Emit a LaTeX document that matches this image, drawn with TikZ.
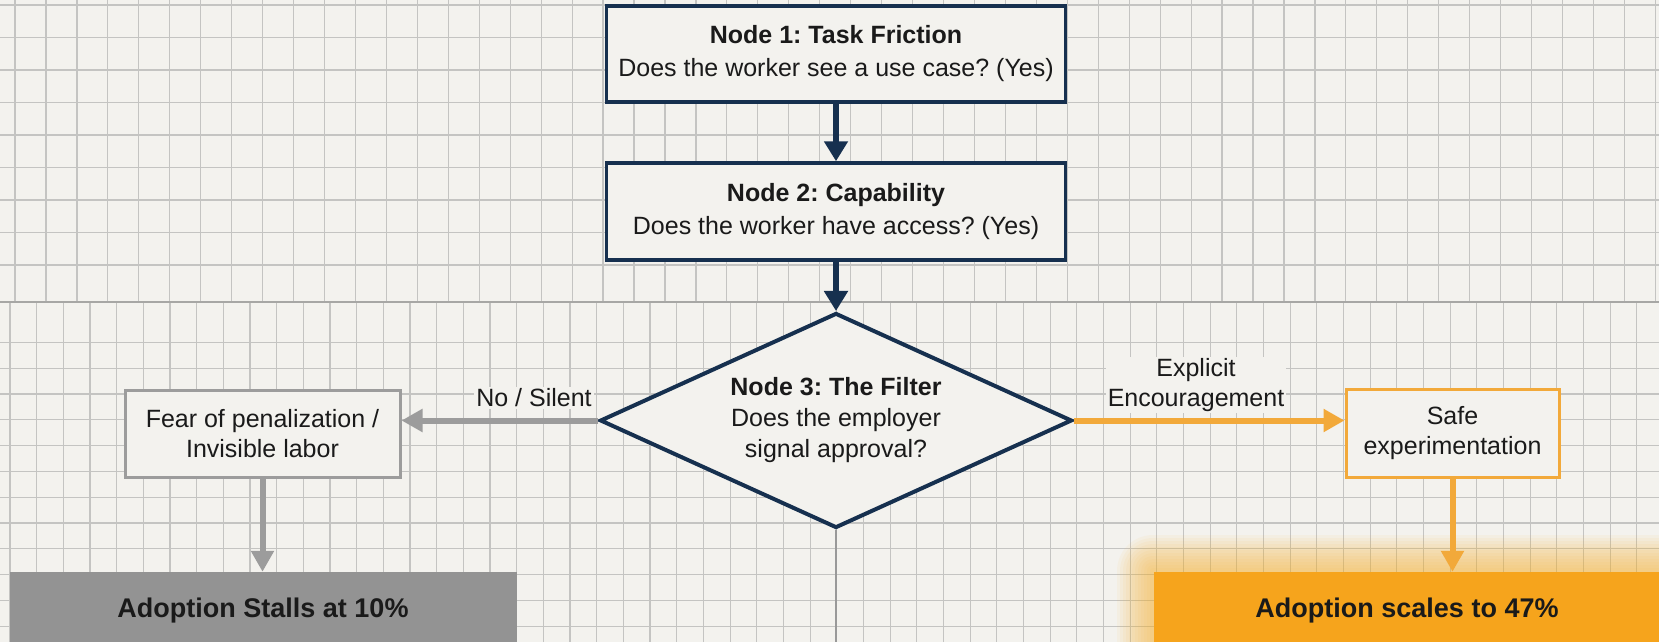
\documentclass[tikz,border=0pt]{standalone}
\usepackage{fontspec}
\setmainfont{Liberation Sans}
\frenchspacing
\usetikzlibrary{arrows.meta,shapes.geometric}
\definecolor{paper}{HTML}{F3F2EE}
\definecolor{gridc}{HTML}{C4C4C2}
\definecolor{navy}{HTML}{16304F}
\definecolor{greyline}{HTML}{9C9C9C}
\definecolor{greybox}{HTML}{939393}
\definecolor{orangeline}{HTML}{F2A93A}
\definecolor{orangebox}{HTML}{F6A41C}
\definecolor{glow}{HTML}{F8B12C}
\definecolor{ink}{HTML}{1A1A1A}
\begin{document}
\begin{tikzpicture}[x=1pt,y=-1pt,
  every node/.style={text=ink},
  txt/.style={font=\fontsize{25}{31}\selectfont},
  navybox/.style={font=\fontsize{25}{33}\selectfont, draw=navy, line width=3.5pt, fill=paper,
    minimum width=459pt, minimum height=96pt, align=center, inner sep=0pt},
  filterbox/.style={txt, draw=navy, line width=4pt, fill=paper, shape=diamond, aspect=2.2,
    minimum width=472pt, minimum height=215pt, align=center, inner sep=0pt},
  greyside/.style={font=\fontsize{25}{30}\selectfont, draw=greyline, line width=3pt, fill=paper,
    minimum width=275pt, minimum height=87pt, align=center, inner sep=0pt},
  orangeside/.style={font=\fontsize{25}{30}\selectfont, draw=orangeline, line width=3pt, fill=paper,
    minimum width=213pt, minimum height=88pt, align=center, inner sep=0pt},
  outcome/.style={font=\fontsize{27}{32}\selectfont\bfseries, minimum width=507pt, minimum height=78pt, inner sep=0pt},
  edgelabel/.style={txt, fill=paper, inner sep=2pt, align=center},
  navyarrow/.style={draw=navy, line width=6pt, -{Triangle[width=23pt,length=20pt]}},
  greyarrow/.style={draw=greyline, line width=6pt, -{Triangle[width=22pt,length=21pt]}},
  orangearrow/.style={draw=orangeline, line width=6pt, -{Triangle[width=22pt,length=21pt]}},
  gridline/.style={draw=gridc, line width=1.2pt}
]
\useasboundingbox (0,0) rectangle (1659,642);
\fill[paper] (0,0) rectangle (1659,642);
% upper grid
\foreach \i in {0,...,53} {\draw[gridline] ({15+30.95*\i},0) -- ({15+30.95*\i},302);}
\foreach \j in {0,...,8} {\draw[gridline] (0,{5+32.5*\j}) -- (1659,{5+32.5*\j});}
% lower grid
\foreach \i in {0,...,62} {\draw[gridline] ({10+26.67*\i},302) -- ({10+26.67*\i},642);}
\foreach \j in {0,...,11} {\draw[gridline] (0,{342.3+25.8*\j}) -- (1659,{342.3+25.8*\j});}
\draw[draw=gridc!85!black, line width=2pt] (0,302) -- (1659,302);

% glow behind the orange outcome
\foreach \r in {3,6,...,36}
  {\fill[glow, opacity=0.06, rounded corners=\r pt] ({1153-\r},{571-\r}) rectangle ({1661+\r},{652+\r});}

% nodes
\node[navybox] (n1) at (836,54) {\textbf{Node 1: Task Friction}\\Does the worker see a use case? (Yes)};
\node[navybox, minimum height=97pt] (n2) at (836,211.5) {\textbf{Node 2: Capability}\\Does the worker have access? (Yes)};
\node[filterbox] (filter) at (836,420.5) {\textbf{Node 3: The Filter}\\Does the employer\\signal approval?};
\node[greyside] (fear) at (262.5,433.5) {Fear of penalization /\\Invisible labor};
\node[orangeside] (safe) at (1452.5,433.5) {Safe\\experimentation};
\node[outcome, fill=greybox] (stall) at (263,611) {Adoption Stalls at 10\%};
\node[outcome, fill=orangebox] (scale) at (1407,611) {Adoption scales to 47\%};
\coordinate (bottomend) at (836,642);

% connectors
\draw[navyarrow] (n1) -- (n2);
\draw[navyarrow] (n2) -- (filter);
\draw[greyarrow] (filter.west) -- (filter.west -| fear.east);
\draw[orangearrow] (filter.east) -- (filter.east -| safe.west);
\draw[greyarrow] (fear.south) -- (fear.south |- stall.north);
\draw[orangearrow] (safe.south) -- (safe.south |- scale.north);
\draw[draw=gray!80, line width=1.3pt] (filter.south) -- (bottomend);

% edge labels
\node[edgelabel] (nolabel) at (534,398) {No / Silent};
\node[edgelabel, font=\fontsize{25}{29.5}\selectfont] (yeslabel) at (1196,385) {Explicit\\Encouragement};
\end{tikzpicture}
\end{document}
